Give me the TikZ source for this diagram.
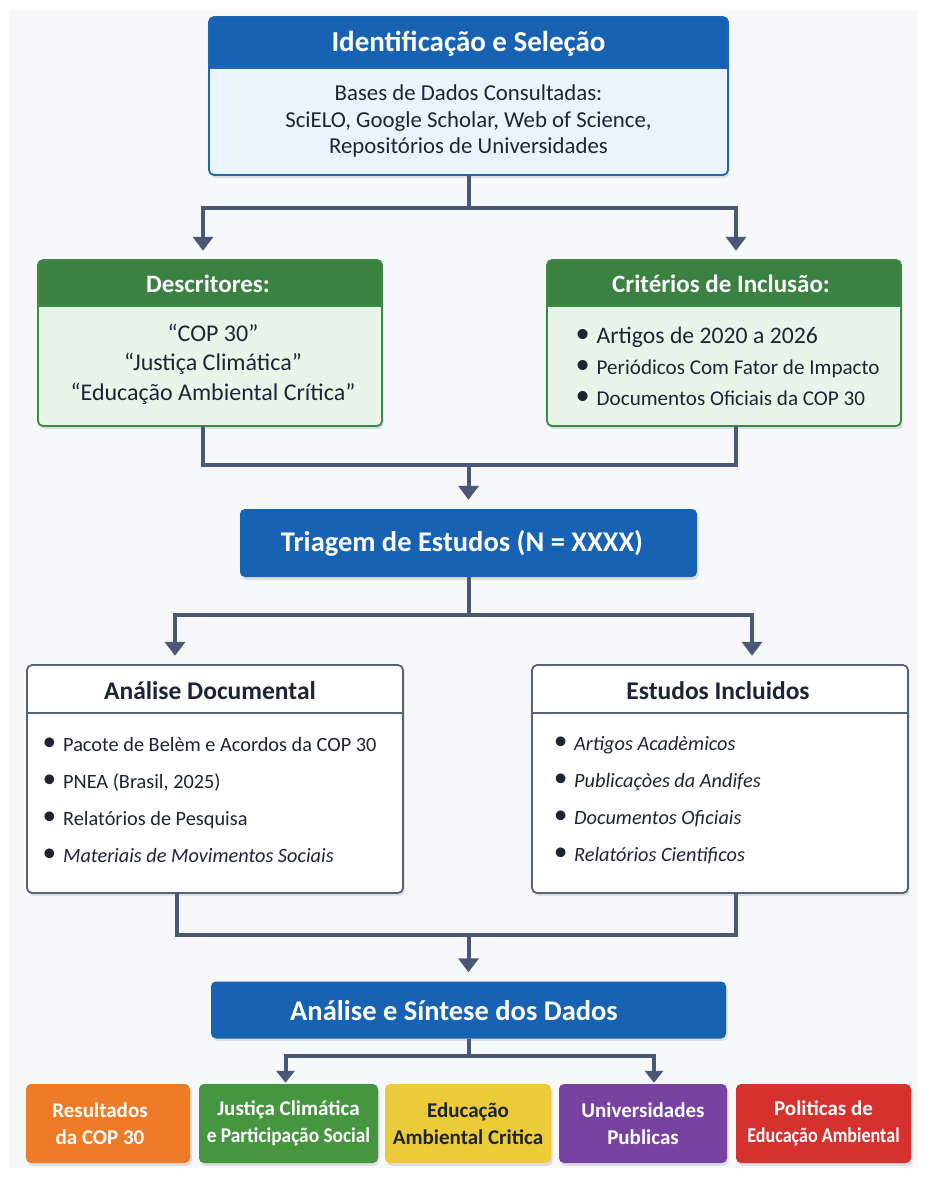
\documentclass[tikz,border=0pt]{standalone}
\usepackage{fontspec}
\setmainfont{Carlito}
\usetikzlibrary{arrows.meta}
\definecolor{bgc}{HTML}{F7F8FA}
\definecolor{hblue}{HTML}{1762B3}
\definecolor{bblue}{HTML}{EBF4FC}
\definecolor{bordblue}{HTML}{1F66B5}
\definecolor{hgreen}{HTML}{3B8142}
\definecolor{bgreen}{HTML}{EAF5EA}
\definecolor{bordgreen}{HTML}{3C8A44}
\definecolor{conncol}{HTML}{4A5876}
\definecolor{txt}{HTML}{1E2436}
\definecolor{wborder}{HTML}{56627A}
\definecolor{corange}{HTML}{EE7B26}
\definecolor{cgreen}{HTML}{46963F}
\definecolor{cyellow}{HTML}{EBCB38}
\definecolor{cpurple}{HTML}{7843A0}
\definecolor{cred}{HTML}{D6302F}
\newcommand\mkbox[9]{%
  \fill[black,opacity=0.10,rounded corners=5pt] (#2+1.5,#3+3) rectangle (#4+1.5,#5+3);
  \node[boxnode, fill=#7, minimum width=#4-#2, minimum height=#5-#3] (#1) at ({(#2+#4)/2},{(#3+#5)/2}) {};
  \fill[#8, rounded corners=5pt] (#2,#3) rectangle (#4,#6);
  \fill[#8] (#2,#6-8) rectangle (#4,#6);
  \draw[#9, line width=1.5pt] (#2,#6) -- (#4,#6);
  \draw[#9, line width=1.8pt, rounded corners=5pt] (#2,#3) rectangle (#4,#5);
}
\tikzset{
  conn/.style={draw=conncol, line width=4pt},
  arr/.style={conn, -{Triangle[width=20pt,length=14pt]}, shorten >=9pt},
  boxnode/.style={inner sep=0pt, rounded corners=5pt},
  plainbox/.style={boxnode, fill=hblue},
  plaintxt/.style={text=white, font=\bfseries\fontsize{28.5}{32}\selectfont},
  shadowfill/.style={black, opacity=0.10, rounded corners=5pt},
  headtxt/.style={text=white, font=\bfseries\fontsize{#1}{#1}\selectfont},
  bodytxt/.style={text=txt, align=center},
  listtxt/.style={text=txt, align=left, anchor=west},
  bottombox/.style={boxnode, minimum height=79pt, align=center, text=white, font=\bfseries\fontsize{21}{27}\selectfont},
}
\newcommand\bul{\raisebox{0.5pt}{\scalebox{1.35}{\textbullet}}\hspace{7pt}}
\begin{document}
\begin{tikzpicture}[x=1pt,y=-1pt]
\useasboundingbox (0,0) rectangle (927,1177);
\fill[white] (0,0) rectangle (927,1177);
\fill[bgc] (9,10) rectangle (918,1168);

% top box
\mkbox{top}{209}{17}{728}{175}{68}{bblue}{hblue}{bordblue}
\node[headtxt=29] (topH) at (468.5,44) {Identificação e Seleção};
\node[bodytxt, font=\fontsize{22.8}{26.5}\selectfont] (topB) at (468.5,121)
  {Bases de Dados Consultadas:\\SciELO, Google Scholar, Web of Science,\\Repositórios de Universidades};

% green boxes
\mkbox{desc}{38}{260}{382}{426}{306}{bgreen}{hgreen}{bordgreen}
\node[headtxt=25] (descH) at (208,284) {Descritores:};
\node[bodytxt, font=\fontsize{24}{29.5}\selectfont] (descB) at (213,364)
  {“COP 30”\\“Justiça Climática”\\“Educação Ambiental Crítica”};

\mkbox{crit}{547}{260}{901}{426}{306}{bgreen}{hgreen}{bordgreen}
\node[headtxt=25] (critH) at (721,284) {Critérios de Inclusão:};
\node[listtxt, font=\fontsize{21.1}{31}\selectfont] (critB) at (572,366)
  {\bul{\fontsize{23.7}{31}\selectfont Artigos de 2020 a 2026}\\\bul Periódicos Com Fator de Impacto\\\bul Documentos Oficiais da COP 30};

% triage
\fill[shadowfill] (241.5,512) rectangle (698.5,580);
\node[plainbox, minimum width=457, minimum height=68] (tri) at (468.5,543) {};
\node[plaintxt] (triT) at (462,543) {Triagem de Estudos (N = XXXX)};

% white boxes
\mkbox{ana}{27}{665}{403}{893}{713}{white}{white}{wborder}
\node[text=txt, font=\bfseries\fontsize{25.5}{25.5}\selectfont] (anaH) at (210,691) {Análise Documental};
\node[listtxt, font=\fontsize{20.3}{37}\selectfont] (anaB) at (39,800)
  {\bul Pacote de Belèm e Acordos da COP 30\\\bul PNEA (Brasil, 2025)\\\bul Relatórios de Pesquisa\\\bul\textit{Materiais de Movimentos Sociais}};

\mkbox{est}{532}{665}{908}{893}{713}{white}{white}{wborder}
\node[text=txt, font=\bfseries\fontsize{25.5}{25.5}\selectfont] (estH) at (718,691) {Estudos Incluidos};
\node[listtxt, font=\itshape\fontsize{20.3}{37}\selectfont] (estB) at (550,800)
  {\bul Artigos Acadèmicos\\\bul Publicaçòes da Andifes\\\bul Documentos Oficiais\\\bul Relatórios Cientificos};

% synthesis
\fill[shadowfill] (212.5,984) rectangle (727.5,1041);
\node[plainbox, minimum width=515, minimum height=57] (syn) at (468.5,1010) {};
\node[plaintxt] (synT) at (454,1011) {Análise e Síntese dos Dados};

% bottom row
\foreach \a/\b in {26/190,199/378,385/551,559/727,736/911}
  \fill[shadowfill] (\a+1.5,1087) rectangle (\b+1.5,1166);
\node[bottombox, fill=corange, minimum width=164] (b1) at (108,1123.5) {};
\node[bottombox] (b1T) at (100,1123.5) {Resultados\\da COP 30};
\node[bottombox, fill=cgreen, minimum width=179] (b2) at (288.5,1123.5) {Justiça Climática\\\scalebox{0.92}[1]{e Participação Social}};
\node[bottombox, fill=cyellow, minimum width=166, text=txt] (b3) at (468,1123.5) {Educação\\Ambiental Critica};
\node[bottombox, fill=cpurple, minimum width=168] (b4) at (643,1123.5) {Universidades\\Publicas};
\node[bottombox, fill=cred, minimum width=175] (b5) at (823.5,1123.5) {Politicas de\\\scalebox{0.86}[1]{Educação Ambiental}};

% connectors
\coordinate (j1) at (468.5,208);
\draw[conn] (top.south) -- (j1);
\draw[arr] (j1) -| ([xshift=-7pt]desc.north);
\draw[arr] (j1) -| ([xshift=12pt]crit.north);

\coordinate (j2) at (468.5,465);
\draw[conn] ([xshift=-7pt]desc.south) |- (j2) -| ([xshift=12pt]crit.south);
\draw[arr] (j2) -- (tri.north);

\coordinate (j3) at (468.5,615);
\draw[conn] (tri.south) -- (j3);
\draw[arr] (j3) -| ([xshift=-40pt]ana.north);
\draw[arr] (j3) -| ([xshift=32pt]est.north);

\coordinate (j4) at (468.5,935);
\draw[conn] ([xshift=-38pt]ana.south) |- (j4) -| ([xshift=16pt]est.south);
\draw[arr] (j4) -- (syn.north);

\coordinate (j5) at (468.5,1056);
\draw[conn] (syn.south) -- (j5);
\draw[arr, -{Triangle[width=18pt,length=12pt]}, shorten >=1pt] (j5) -| ([xshift=-3pt]b2.north);
\draw[arr, -{Triangle[width=18pt,length=12pt]}, shorten >=1pt] (j5) -| ([xshift=11pt]b4.north);
\end{tikzpicture}
\end{document}
